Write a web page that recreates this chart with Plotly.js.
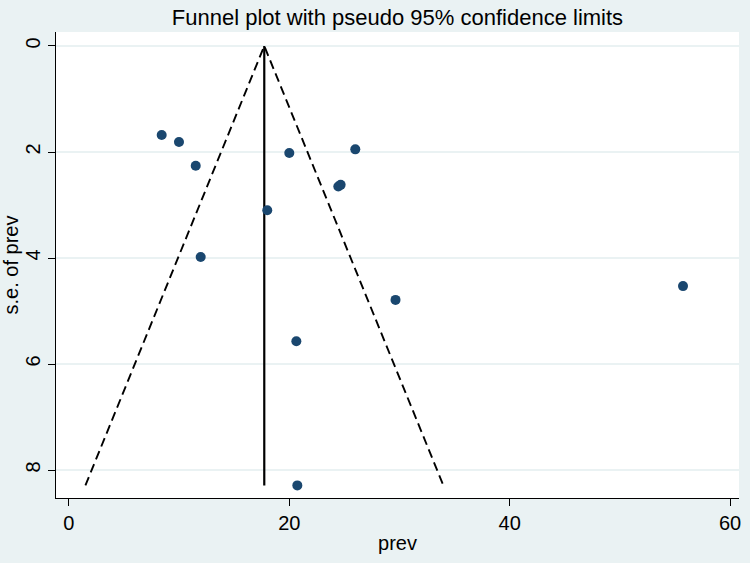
<!DOCTYPE html>
<html>
<head>
<meta charset="utf-8">
<script src="https://cdn.plot.ly/plotly-3.0.1.min.js"></script>
<style>
    html, body { margin: 0; padding: 0; background: #eaf2f3; }
    #funnelChart { width: 750px; height: 563px; }
</style>
</head>
<body>
<div id="funnelChart"></div>
<script>
// Study estimates
const prevValues = [8.42, 9.99, 11.51, 11.96, 18.0, 20.0, 25.99, 24.45, 24.66, 29.64, 20.64, 20.73, 55.73];
const seValues   = [1.68, 1.81, 2.26, 3.98, 3.10, 2.02, 1.95, 2.65, 2.62, 4.79, 5.57, 8.29, 4.53];

// Pooled estimate line and pseudo 95% limits
const pooledX = [17.73, 17.73];
const pooledY = [0, 8.29];
const limitsX = [1.5, 17.73, 33.98];
const limitsY = [8.29, 0, 8.29];

const xTicks = [0, 20, 40, 60];
const yTicks = [0, 2, 4, 6, 8];

document.addEventListener('DOMContentLoaded', function() {
    const fontFamily = '"Liberation Sans", Arial, sans-serif';

    const limitsTrace = {
        x: limitsX,
        y: limitsY,
        type: 'scatter',
        mode: 'lines',
        line: { color: '#000000', width: 1.9, dash: '9px,5px' },
        hoverinfo: 'skip',
        showlegend: false
    };

    const pooledTrace = {
        x: pooledX,
        y: pooledY,
        type: 'scatter',
        mode: 'lines',
        line: { color: '#000000', width: 2.2 },
        hoverinfo: 'skip',
        showlegend: false
    };

    const studyTrace = {
        x: prevValues,
        y: seValues,
        type: 'scatter',
        mode: 'markers',
        marker: { color: '#1a476f', size: 10 },
        showlegend: false
    };

    const layout = {
        width: 750,
        height: 563,
        paper_bgcolor: '#eaf2f3',
        plot_bgcolor: '#ffffff',
        margin: { l: 56, r: 11, t: 32, b: 65 },
        font: { family: fontFamily, color: '#000000' },
        title: {
            text: 'Funnel plot with pseudo 95% confidence limits',
            font: { size: 22, family: fontFamily, color: '#000000' },
            x: 0.5,
            xref: 'paper',
            y: 1 - 17 / 563,
            yref: 'container',
            yanchor: 'middle'
        },
        xaxis: {
            range: [-1.17, 60.81],
            tickvals: xTicks,
            ticktext: xTicks.map(String),
            ticks: 'outside',
            ticklen: 7,
            tickwidth: 1,
            tickcolor: '#000000',
            tickfont: { size: 20 },
            showgrid: false,
            zeroline: false,
            showline: true,
            linecolor: '#000000',
            linewidth: 1,
            title: { text: 'prev', font: { size: 20 }, standoff: 2 }
        },
        yaxis: {
            range: [8.528, -0.264],
            tickvals: yTicks,
            ticktext: yTicks.map(String),
            tickangle: -90,
            ticks: 'outside',
            ticklen: 7,
            tickwidth: 1,
            tickcolor: '#000000',
            tickfont: { size: 20 },
            showgrid: true,
            gridcolor: '#eaf2f3',
            gridwidth: 1.5,
            zeroline: false,
            showline: true,
            linecolor: '#000000',
            linewidth: 1,
            title: { text: 's.e. of prev', font: { size: 20 }, standoff: 2 }
        }
    };

    Plotly.newPlot('funnelChart', [limitsTrace, pooledTrace, studyTrace], layout, { staticPlot: true });
});
</script>
</body>
</html>
